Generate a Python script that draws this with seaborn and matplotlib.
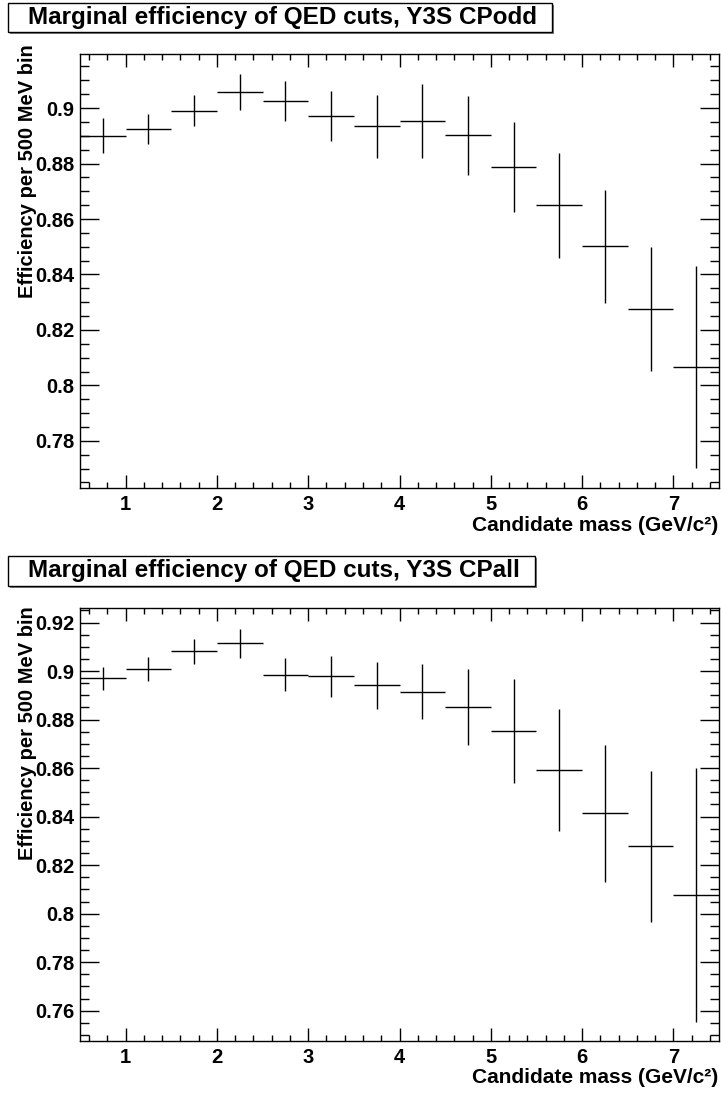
import matplotlib
matplotlib.use("Agg")
import matplotlib.pyplot as plt
import pandas as pd
import seaborn as sns
from matplotlib.patches import Rectangle
from matplotlib.ticker import MultipleLocator, FuncFormatter

# =============================
# DATA
# =============================
bin_centers = [0.75, 1.25, 1.75, 2.25, 2.75, 3.25, 3.75,
               4.25, 4.75, 5.25, 5.75, 6.25, 6.75, 7.25]
bin_half_width = 0.25

eff_cpodd = [0.8900, 0.8924, 0.8990, 0.9059, 0.9026, 0.8971, 0.8934,
             0.8954, 0.8902, 0.8788, 0.8649, 0.8501, 0.8276, 0.8066]
err_cpodd = [0.0063, 0.0055, 0.0056, 0.0065, 0.0073, 0.0090, 0.0113,
             0.0133, 0.0143, 0.0163, 0.0188, 0.0205, 0.0223, 0.0365]

eff_cpall = [0.8970, 0.9008, 0.9081, 0.9115, 0.8985, 0.8978, 0.8942,
             0.8915, 0.8852, 0.8753, 0.8591, 0.8413, 0.8277, 0.8078]
err_cpall = [0.0048, 0.0049, 0.0050, 0.0060, 0.0069, 0.0083, 0.0097,
             0.0113, 0.0155, 0.0213, 0.0252, 0.0283, 0.0310, 0.0523]

titles = ["Marginal efficiency of QED cuts, Y3S CPodd",
          "Marginal efficiency of QED cuts, Y3S CPall"]
x_label = "Candidate mass (GeV/c²)"
y_label = "Efficiency per 500 MeV bin"

# =============================
# STYLE
# =============================
sns.set_style("ticks")
plt.rcParams["font.family"] = ["Liberation Sans", "DejaVu Sans"]
plt.rcParams["font.weight"] = "bold"
for key in ["text.color", "axes.labelcolor", "xtick.color", "ytick.color",
            "axes.edgecolor"]:
    plt.rcParams[key] = "black"

W, H = 721, 1093
fig = plt.figure(figsize=(W / 100, H / 100), dpi=100)
fig.patch.set_facecolor("white")


def px_axes(left, top, right, bottom):
    return fig.add_axes([left / W, 1 - bottom / H,
                         (right - left) / W, (bottom - top) / H])


def title_box(text, top, bottom, right, left=8):
    # grey shadow, then white box with black frame (ROOT pave style)
    fig.add_artist(Rectangle(((left + 2) / W, 1 - (bottom + 2) / H),
                             (right - left) / W, (bottom - top) / H,
                             transform=fig.transFigure, facecolor="#808080",
                             edgecolor="none", zorder=1))
    fig.add_artist(Rectangle((left / W, 1 - bottom / H),
                             (right - left) / W, (bottom - top) / H,
                             transform=fig.transFigure, facecolor="white",
                             edgecolor="black", linewidth=1.0, zorder=2))
    fig.text(28 / W, 1 - (top + bottom) / 2 / H, text, ha="left", va="center",
             fontsize=17.5, fontweight="bold", color="black", zorder=3)


def draw_panel(ax, eff, err, ylim):
    df = pd.DataFrame({"mass": bin_centers, "eff": eff, "err": err})
    ax.errorbar(df["mass"], df["eff"], xerr=bin_half_width, yerr=df["err"],
                fmt="none", ecolor="black", elinewidth=1.0, capsize=0)
    ax.set_xlim(0.5, 7.5)
    ax.set_ylim(*ylim)

    ax.xaxis.set_major_locator(MultipleLocator(1))
    ax.xaxis.set_minor_locator(MultipleLocator(0.2))
    ax.yaxis.set_major_locator(MultipleLocator(0.02))
    ax.yaxis.set_minor_locator(MultipleLocator(0.005))
    ax.yaxis.set_major_formatter(FuncFormatter(lambda v, p: f"{v:g}"))
    ax.xaxis.set_major_formatter(FuncFormatter(lambda v, p: f"{v:g}"))

    ax.tick_params(axis="both", which="both", direction="in",
                   top=True, right=True, color="black", width=1.0,
                   labelcolor="black")
    ax.tick_params(axis="x", which="major", length=9.5, pad=5, labelsize=14.5)
    ax.tick_params(axis="x", which="minor", length=4.5)
    ax.tick_params(axis="y", which="major", length=13.5, pad=4, labelsize=14.5)
    ax.tick_params(axis="y", which="minor", length=6.5)
    for lab in ax.get_xticklabels() + ax.get_yticklabels():
        lab.set_fontweight("bold")
    for sp in ax.spines.values():
        sp.set_visible(True)
        sp.set_color("black")
        sp.set_linewidth(1.0)
    ax.set_xlabel("")
    ax.set_ylabel("")


# =============================
# PANELS
# =============================
ax1 = px_axes(80, 54, 719, 488)
draw_panel(ax1, eff_cpodd, err_cpodd, (0.763, 0.9195))

ax2 = px_axes(80, 608, 719, 1041)
draw_panel(ax2, eff_cpall, err_cpall, (0.7475, 0.926))

title_box(titles[0], 3, 32, 552)
title_box(titles[1], 556, 586, 535)

for label_top, xlab_base in [(44, 531), (606, 1083)]:
    fig.text(28 / W, 1 - label_top / H, y_label, rotation=90, ha="center",
             va="top", fontsize=14.5, fontweight="bold", color="black")
    fig.text(718 / W, 1 - xlab_base / H, x_label, ha="right",
             va="baseline", fontsize=15, fontweight="bold", color="black")

fig.savefig("out.png", dpi=100, facecolor="white")
plt.close(fig)
